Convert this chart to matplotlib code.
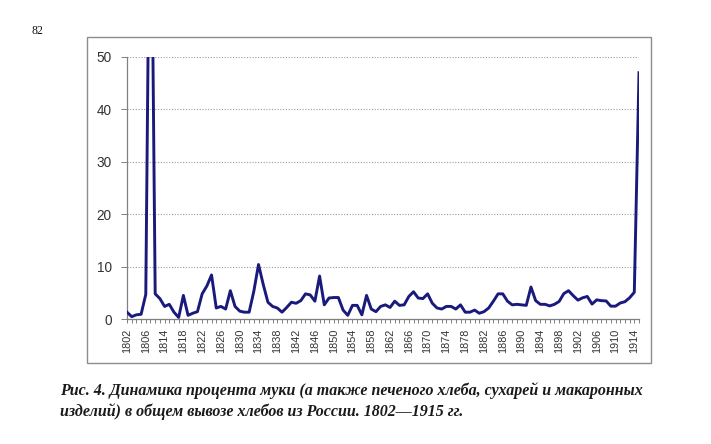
import matplotlib
matplotlib.use("Agg")
import matplotlib.pyplot as plt
from matplotlib.patches import Rectangle
import numpy as np

years = [1802, 1803, 1804, 1805, 1806, 1807] + list(range(1812, 1916))
values = [
    1.3, 0.45, 0.8, 0.9, 4.7, 100.0,            # 1802-1807
    4.8, 3.9, 2.4, 2.8, 1.3, 0.3, 4.5, 0.7,      # 1812-1819
    1.1, 1.4, 4.8, 6.3, 8.4, 2.1, 2.4, 1.9,      # 1820-1827
    5.4, 2.4, 1.5, 1.3, 1.3, 5.3, 10.4, 6.6,     # 1828-1835
    3.2, 2.4, 2.1, 1.3, 2.2, 3.2, 3.0, 3.5,      # 1836-1843
    4.8, 4.6, 3.4, 8.2, 2.7, 4.0, 4.1, 4.1,      # 1844-1851
    1.7, 0.7, 2.6, 2.6, 0.8, 4.5, 1.9, 1.4,      # 1852-1859
    2.4, 2.7, 2.2, 3.4, 2.6, 2.7, 4.3, 5.2,      # 1860-1867
    4.0, 3.9, 4.8, 3.0, 2.1, 1.9, 2.4, 2.4,      # 1868-1875
    1.9, 2.7, 1.3, 1.3, 1.7, 1.1, 1.4, 2.1,      # 1876-1883
    3.4, 4.8, 4.8, 3.4, 2.7, 2.8, 2.7, 2.6,      # 1884-1891
    6.1, 3.5, 2.8, 2.8, 2.5, 2.8, 3.35, 4.85,    # 1892-1899
    5.4, 4.45, 3.6, 4.05, 4.3, 2.85, 3.65, 3.5,  # 1900-1907
    3.45, 2.45, 2.45, 3.05, 3.3, 4.05, 5.1, 47.0 # 1908-1915
]
y_ticks = [0, 10, 20, 30, 40, 50]
caption1 = "Рис. 4. Динамика процента муки (а также печеного хлеба, сухарей и макаронных"
caption2 = "изделий) в общем вывозе хлебов из России. 1802\u20141915 гг."
page_number = "82"

W, H = 711, 444
fig = plt.figure(figsize=(W / 100, H / 100), dpi=100)
fig.patch.set_facecolor("white")

def fx(px):
    return px / W

def fy(py):
    return 1 - py / H

# chart frame
fig.add_artist(Rectangle((fx(87), fy(363)), fx(651) - fx(87), fy(37) - fy(363),
                         transform=fig.transFigure, fill=False,
                         edgecolor="#8c8c8c", linewidth=1.0))

ax = fig.add_axes([fx(127), fy(319), fx(639) - fx(127), fy(57) - fy(319)])
idx = np.arange(len(values))
ax.plot(idx, values, color="#1a1a7c", linewidth=2.1, solid_joinstyle="round", zorder=3)
ax.set_xlim(0, len(values) - 1)
ax.set_ylim(0, 50)

ax.set_yticks(y_ticks)
ax.set_yticklabels([str(v) for v in y_ticks], fontsize=9.8, color="#333333",
                   family="Liberation Sans")
ax.yaxis.grid(True, linestyle=(0, (1, 1.5)), color="#9a9a9a", linewidth=0.8)
ax.set_axisbelow(True)

maj = list(range(0, len(values), 4))
ax.set_xticks(maj)
ax.set_xticklabels([str(years[i]) for i in maj], rotation=90, fontsize=7.8,
                   color="#333333", family="Liberation Sans")
ax.set_xticks(idx, minor=True)
ax.tick_params(axis="x", which="both", length=3, width=0.7, color="#808080",
               direction="out", pad=4)
ax.tick_params(axis="y", length=4, width=0.7, color="#808080", pad=7)

for s in ["top", "right"]:
    ax.spines[s].set_visible(False)
for s in ["left", "bottom"]:
    ax.spines[s].set_color("#808080")
    ax.spines[s].set_linewidth(0.9)

fig.text(fx(32), fy(34), page_number, fontsize=8.5, family="Liberation Serif",
         color="#111111", ha="left", va="baseline")
fig.text(fx(60), fy(395), caption1, fontsize=11.5, family="Liberation Serif",
         style="italic", weight="bold", color="#1a1a1a", ha="left", va="baseline")
fig.text(fx(60), fy(416), caption2, fontsize=11.5, family="Liberation Serif",
         style="italic", weight="bold", color="#1a1a1a", ha="left", va="baseline")

fig.savefig("out.png", dpi=100, facecolor="white")
